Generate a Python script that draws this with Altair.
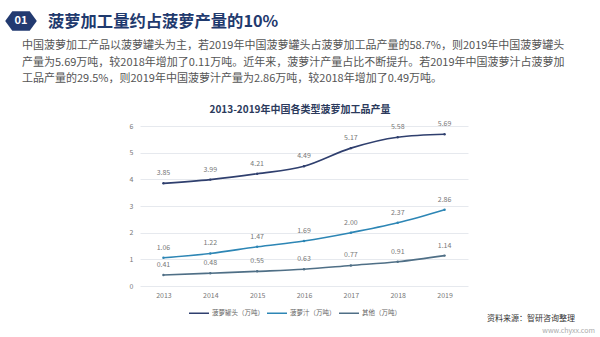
import altair as alt
import pandas as pd

years = ["2013", "2014", "2015", "2016", "2017", "2018", "2019"]
canned = [3.85, 3.99, 4.21, 4.49, 5.17, 5.58, 5.69]
juice = [1.06, 1.22, 1.47, 1.69, 2.00, 2.37, 2.86]
other = [0.41, 0.48, 0.55, 0.63, 0.77, 0.91, 1.14]
series_names = ["菠萝罐头（万吨）", "菠萝汁（万吨）", "其他（万吨）"]
series_colors = ["#2f3f6e", "#2d86b5", "#4f6f86"]

header_title = "菠萝加工量约占菠萝产量的10%"
para_lines = [
    "中国菠萝加工产品以菠萝罐头为主，若2019年中国菠萝罐头占菠萝加工品产量的58.7%，则2019年中国菠萝罐头",
    "产量为5.69万吨，较2018年增加了0.11万吨。近年来，菠萝汁产量占比不断提升。若2019年中国菠萝汁占菠萝加",
    "工品产量的29.5%，则2019年中国菠萝汁产量为2.86万吨，较2018年增加了0.49万吨。",
]
chart_title = "2013-2019年中国各类型菠萝加工品产量"
source_text = "资料来源：智研咨询整理"
site_text = "www.chyxx.com"

FONT = "Noto Sans CJK SC"
PL, PT = 140, 126
W, H = 328, 160

rows = []
for name, vals in zip(series_names, [canned, juice, other]):
    for y, v in zip(years, vals):
        rows.append({"year": y, "value": v, "series": name, "label": f"{v:.2f}"})
df = pd.DataFrame(rows)

x_enc = alt.X("year:O", sort=years, title=None,
              scale=alt.Scale(paddingOuter=0.5),
              axis=alt.Axis(labelAngle=0, labelFontSize=7, labelColor="#777",
                            ticks=False, domain=False, labelPadding=5, labelFont=FONT))
y_enc = alt.Y("value:Q", title=None,
              scale=alt.Scale(domain=[0, 6]),
              axis=alt.Axis(values=[0, 1, 2, 3, 4, 5, 6], labelFontSize=7, labelColor="#777",
                            ticks=False, domain=False, gridColor="#e6e9ee", labelPadding=7,
                            labelFont=FONT))
color_enc = alt.Color("series:N", sort=series_names,
                      scale=alt.Scale(domain=series_names, range=series_colors),
                      legend=alt.Legend(orient="none", direction="horizontal", legendX=48, legendY=176,
                                        title=None, symbolType="stroke", symbolSize=400,
                                        symbolStrokeWidth=1.5, labelFontSize=6.5, labelColor="#666",
                                        labelFont=FONT, columnPadding=0, labelOffset=2))

base = alt.Chart(df)
lines = base.mark_line(strokeWidth=1.6, interpolate="monotone").encode(x=x_enc, y=y_enc, color=color_enc)
pts = base.mark_point(filled=True, size=6, opacity=1).encode(x=x_enc, y=y_enc, color=alt.Color("series:N", scale=alt.Scale(domain=series_names, range=series_colors), legend=None))
labels = base.mark_text(dy=-10, fontSize=7, color="#777", font=FONT).encode(x=x_enc, y=y_enc, text="label:N")

def txt(text, x, y, **kw):
    return alt.Chart(pd.DataFrame({"t": [text]})).mark_text(font=FONT, **kw).encode(
        x=alt.value(x - PL), y=alt.value(y - PT), text="t:N")

hexagon = alt.Chart(pd.DataFrame({"a": [1]})).mark_point(
    shape="M-1,0L-0.55,-0.62L0.55,-0.62L1,0L0.55,0.62L-0.55,0.62Z",
    filled=True, opacity=1, color="#223a70", size=1000).encode(
    x=alt.value(21 - PL), y=alt.value(21 - PT))

layers = [lines, pts, labels, hexagon,
          txt("01", 21, 21, fontSize=11, fontWeight="bold", color="white", align="center", baseline="middle"),
          txt(header_title, 48, 22, fontSize=16.3, fontWeight="bold", color="#1f3a6e", align="left", baseline="middle"),
          txt(chart_title, 300, 110, fontSize=10, fontWeight="bold", color="#2b3a5c", align="center", baseline="middle"),
          txt(source_text, 575, 319, fontSize=8, color="#333", align="right", baseline="middle"),
          txt(site_text, 595, 331, fontSize=7, color="#aaa", align="right", baseline="middle")]
for i, line in enumerate(para_lines):
    layers.append(txt(line, 22, 46 + i * 16.5, fontSize=11, color="#555", align="left", baseline="middle"))

chart = alt.layer(*layers).properties(
    width=W, height=H,
    autosize=alt.AutoSizeParams(type="none"),
    padding={"left": PL, "top": PT, "right": 600 - PL - W, "bottom": 337 - PT - H},
    background="white",
).configure_view(stroke=None)

chart.save("out.html", embed_options={"renderer": "svg", "actions": False})
